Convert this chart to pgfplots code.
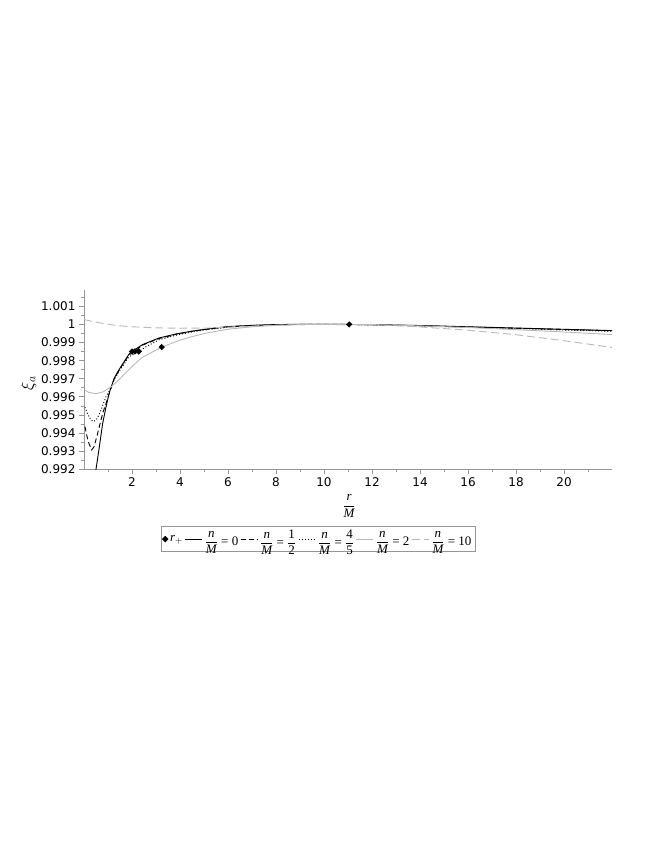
\documentclass[border=0pt]{standalone}
\usepackage{fontspec}
\setmainfont{Liberation Serif}
\setsansfont{DejaVu Sans}
\usepackage{pgfplots}
\pgfplotsset{compat=1.18}
\definecolor{lgray}{RGB}{185,185,185}
\definecolor{axgray}{RGB}{150,150,150}
\newcommand{\nM}[1]{${\displaystyle\frac{\textit{n}}{\textit{M}}}$ = #1}
\pgfplotsset{
  myleg/.style={legend image code/.code={\draw[##1] (0pt,0pt) -- (17pt,0pt);}},
  mymark/.style={legend image code/.code={\draw[##1] plot coordinates {(5pt,0pt)};}},
}
\begin{document}
\begin{tikzpicture}[x=1pt,y=1pt]
\useasboundingbox (0,0) rectangle (654,846);
\begin{axis}[
  at={(84pt,376.7pt)}, anchor=south west,
  scale only axis, width=528pt, height=179.3pt,
  xmin=0, xmax=22, ymin=0.992, ymax=1.0019,
  axis lines*=left,
  axis line style={axgray, line width=0.8pt},
  tick style={axgray, line width=0.8pt},
  tick align=outside,
  major tick length=5pt, minor tick length=3pt,
  xtick={2,4,...,20},
  xticklabels={2,4,6,8,10,12,14,16,18,20},
  minor xtick={1,3,...,21},
  ytick={0.992,0.993,0.994,0.995,0.996,0.997,0.998,0.999,1,1.001},
  yticklabels={0.992,0.993,0.994,0.995,0.996,0.997,0.998,0.999,1,1.001},
  minor ytick={0.9925,0.9935,0.9945,0.9955,0.9965,0.9975,0.9985,0.9995,1.0005,1.0015},
  ticklabel style={font=\sffamily\fontsize{12}{14}\selectfont},
  xlabel={${\displaystyle\frac{\textit{r}}{\textit{M}}}$},
  xlabel style={at={(axis description cs:0.502,-0.205)}, anchor=center, font=\fontsize{13}{15}\selectfont},
  ylabel={$\xi_{a}$},
  ylabel style={at={(axis description cs:-0.105,0.48)}, anchor=center, font=\fontsize{18}{20}\selectfont},
  legend columns=-1,
  legend style={at={(axis description cs:0.443,-0.389)}, anchor=center, draw=axgray, line width=0.6pt,
     font=\fontsize{13}{15}\selectfont, inner sep=1.5pt,
     /tikz/every even column/.append style={column sep=0pt},
     /tikz/every odd column/.append style={column sep=0pt}},
  legend cell align=left,
]
\addplot[only marks, mark=square*, mark size=2pt, mark options={rotate=45, black}, black, mymark]
  coordinates {(2,0.99850) (2.118,0.99851) (2.28,0.99850) (3.236,0.99875) (11.05,1.00000)};
\addlegendentry{$\textit{r}_{+}$}

\addplot[black, line width=0.9pt, myleg] coordinates {
(0.48,0.9917) (0.50,0.9920) (0.64,0.99325) (0.78,0.99455) (0.92,0.99546) (1.05,0.99621)
(1.26,0.99704) (1.45,0.99748) (1.875,0.99836) (2.0,0.99850) (2.43,0.99888) (3.125,0.99925)
(3.82,0.99947) (4.5,0.99963) (5.2,0.99976) (6.0,0.99988) (7.0,0.99995) (8.0,0.99999)
(9.0,1.00001) (10.0,1.00001) (11.0,1.00000) (12,0.99999) (14,0.99994) (16,0.99987)
(18,0.99980) (20,0.99973) (22,0.99966)};
\addlegendentry{\nM{0}}

\addplot[black, line width=0.9pt, dash pattern=on 5pt off 3pt, myleg] coordinates {
(0.04,0.99436) (0.12,0.99385) (0.2,0.99345) (0.32,0.99307) (0.42,0.99325) (0.57,0.99399)
(0.78,0.99510) (0.92,0.99565) (1.05,0.99618) (1.26,0.99700) (1.45,0.99745) (1.875,0.99832)
(2.118,0.99851) (2.43,0.99885) (3.125,0.99922) (3.82,0.99945) (4.5,0.99962) (5.2,0.99975)
(6,0.99987) (7,0.99994) (8,0.99998) (9,1.00000) (10,1.00001) (11,1.00000) (12,0.99998)
(14,0.99993) (16,0.99986) (18,0.99979) (20,0.99972) (22,0.99965)};
\addlegendentry{\nM{${\displaystyle\frac{\mbox{1}}{\mbox{2}}}$}}

\addplot[black, line width=0.9pt, dash pattern=on 1pt off 2pt, myleg] coordinates {
(0.04,0.99543) (0.15,0.99505) (0.28,0.99474) (0.40,0.99463) (0.55,0.99480) (0.71,0.99528)
(0.92,0.99602) (1.05,0.99632) (1.26,0.99695) (1.45,0.99738) (1.875,0.99822) (2.28,0.99850)
(2.6,0.99878) (3.125,0.99915) (3.82,0.99940) (4.5,0.99958) (5.2,0.99972) (6,0.99984)
(7,0.99993) (8,0.99998) (9,1.00000) (10,1.00000) (12,0.99997) (14,0.99991) (16,0.99984)
(18,0.99977) (20,0.99969) (22,0.99962)};
\addlegendentry{\nM{${\displaystyle\frac{\mbox{4}}{\mbox{5}}}$}}

\addplot[lgray, line width=0.9pt, myleg] coordinates {
(0.04,0.99637) (0.2,0.99625) (0.5,0.99617) (0.8,0.99628) (1.125,0.99655) (1.46,0.99695)
(2.0,0.99768) (2.43,0.99818) (3.236,0.99875) (4.0,0.99913) (4.51,0.99933) (5.2,0.99955)
(6.04,0.99974) (7,0.99987) (8,0.99995) (9,0.99999) (10,1.00000) (11,1.00000) (12,0.99999)
(14,0.99992) (16,0.99983) (18,0.99971) (20,0.99958) (22,0.99944)};
\addlegendentry{\nM{2}}

\addplot[lgray, line width=0.9pt, dash pattern=on 8pt off 4pt, myleg] coordinates {
(0.0,1.00027) (0.3,1.00018) (0.6,1.00010) (1.04,1.00000) (1.5,0.99992) (2.0,0.99987)
(3.0,0.99981) (4.0,0.99979) (5.2,0.99980) (6.0,0.99985) (7.0,0.99991) (8.0,0.99996)
(9.0,0.99999) (10.0,1.00000) (11.05,1.00000) (12,0.99998) (13,0.99993) (14,0.99986)
(16,0.99968) (18,0.99943) (20,0.99910) (22,0.99873)};
\addlegendentry{\nM{10}}
\end{axis}
\end{tikzpicture}
\end{document}
